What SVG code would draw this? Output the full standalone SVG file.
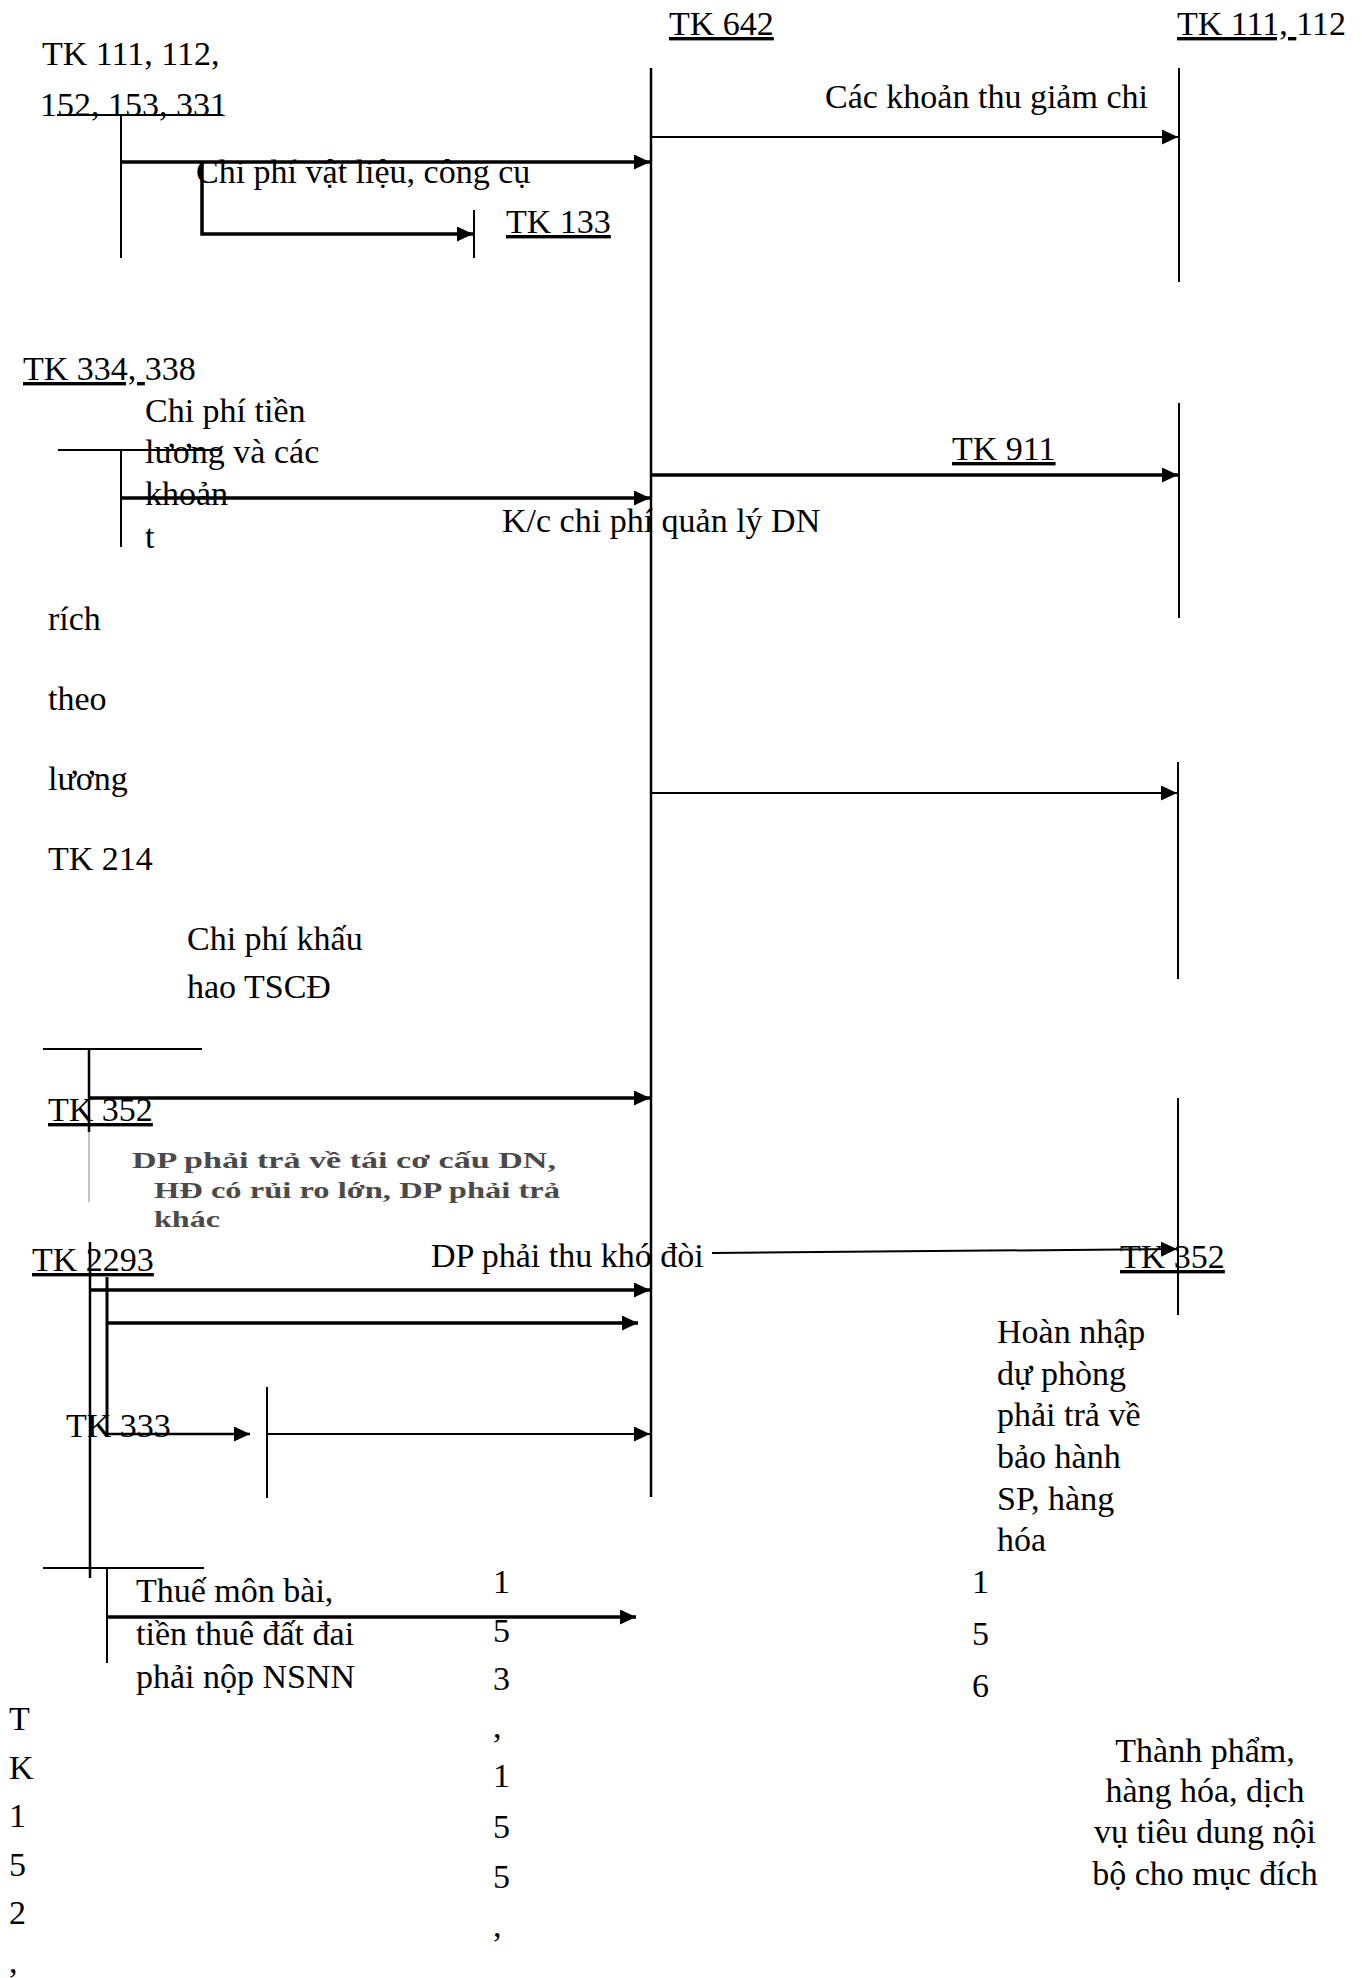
<svg xmlns="http://www.w3.org/2000/svg" width="1362" height="1978" viewBox="0 0 1362 1978">
<defs>
<marker id="ah" markerUnits="userSpaceOnUse" markerWidth="16" markerHeight="15" refX="16" refY="7.5" orient="auto"><path d="M0,0 L16,7.5 L0,15 z" fill="#000"/></marker>
<style>
text{font-family:"Liberation Serif","Times New Roman",serif;font-size:34px;fill:#000}
.u{text-decoration:underline}
.sm{font-size:23px;font-weight:bold;fill:#4a4a4a}
.mid{text-anchor:middle}
.ln{stroke:#000;stroke-width:2;fill:none}
.thk{stroke:#000;stroke-width:3.5;fill:none;marker-end:url(#ah)}
.thn{stroke:#000;stroke-width:2;fill:none;marker-end:url(#ah)}
</style>
</defs>
<rect width="1362" height="1978" fill="#fff"/>

<g id="tk111-112-152-153-331">
<line class="ln" x1="57" y1="115" x2="223" y2="115"/>
<line class="ln" x1="121" y1="115" x2="121" y2="258"/>
<text x="42" y="65">TK 111, 112,</text>
<text x="40" y="116">152, 153, 331</text>
</g>
<g id="tk133">
<line class="ln" x1="474" y1="210" x2="474" y2="258"/>
<text x="506" y="233" class="u">TK 133</text>
</g>
<g id="tk642">
<line class="ln" x1="651" y1="68" x2="651" y2="1497" style="stroke-width:2.5"/>
<text x="669" y="35" class="u">TK 642</text>
</g>
<g id="tk111-112">
<line class="ln" x1="1179" y1="68" x2="1179" y2="282"/>
<text x="1177" y="35"><tspan class="u">TK 111, </tspan>112</text>
</g>
<g id="tk334-338">
<line class="ln" x1="58" y1="450" x2="219" y2="450"/>
<line class="ln" x1="121" y1="450" x2="121" y2="547"/>
<text x="23" y="380"><tspan class="u">TK 334, </tspan>338</text>
</g>
<g id="tk911">
<line class="ln" x1="1179" y1="403" x2="1179" y2="618"/>
<text x="952" y="460" class="u">TK 911</text>
</g>
<g id="tk-right-3">
<line class="ln" x1="1178" y1="762" x2="1178" y2="979"/>
</g>
<g id="tk214">
<text x="48" y="870">TK 214</text>
</g>
<g id="tk352-left">
<line class="ln" x1="43" y1="1049" x2="202" y2="1049"/>
<line class="ln" x1="89" y1="1049" x2="89" y2="1132" style="stroke-width:2.5"/>
<line x1="89" y1="1132" x2="89" y2="1202" stroke="#999" stroke-width="1.2"/>
<text x="48" y="1121" class="u">TK 352</text>
</g>
<g id="tk2293">
<line class="ln" x1="90" y1="1242" x2="90" y2="1578" style="stroke-width:2.5"/>
<line class="ln" x1="107" y1="1277" x2="107" y2="1434" style="stroke-width:3"/>
<text x="32" y="1271" class="u">TK 2293</text>
</g>
<g id="tk333">
<line class="ln" x1="267" y1="1387" x2="267" y2="1498"/>
<text x="66" y="1437">TK 333</text>
</g>
<g id="tk352-right">
<line class="ln" x1="1178" y1="1098" x2="1178" y2="1315"/>
<text x="1120" y="1268" class="u">TK 352</text>
</g>
<g id="tk152-153-155">
<line class="ln" x1="43" y1="1568" x2="204" y2="1568"/>
<line class="ln" x1="107" y1="1568" x2="107" y2="1663"/>
<text x="9" y="1730">T</text>
<text x="9" y="1779">K</text>
<text x="9" y="1827">1</text>
<text x="9" y="1876">5</text>
<text x="9" y="1924">2</text>
<text x="9" y="1973">,</text>
<text x="493" y="1593">1</text>
<text x="493" y="1642">5</text>
<text x="493" y="1690">3</text>
<text x="493" y="1738">,</text>
<text x="493" y="1787">1</text>
<text x="493" y="1838">5</text>
<text x="493" y="1888">5</text>
<text x="493" y="1937">,</text>
</g>
<g id="tk156">
<text x="972" y="1593">1</text>
<text x="972" y="1645">5</text>
<text x="972" y="1697">6</text>
</g>

<g id="connectors">
<line class="thk" x1="121" y1="162" x2="650" y2="162"/>
<path class="thk" d="M202,162 V234 H473"/>
<line class="thn" x1="651" y1="137" x2="1178" y2="137"/>
<line class="thk" x1="121" y1="498" x2="650" y2="498"/>
<line class="thk" x1="651" y1="475" x2="1178" y2="475"/>
<line class="thn" x1="651" y1="793" x2="1177" y2="793"/>
<line class="thk" x1="89" y1="1098" x2="650" y2="1098"/>
<line class="thk" x1="90" y1="1290" x2="650" y2="1290"/>
<line class="thk" x1="107" y1="1323" x2="638" y2="1323"/>
<line class="thn" x1="712" y1="1253" x2="1177" y2="1249"/>
<line class="thn" x1="107" y1="1434" x2="250" y2="1434" style="stroke-width:2.5"/>
<line class="thn" x1="267" y1="1434" x2="650" y2="1434"/>
<line class="thk" x1="107" y1="1617" x2="636" y2="1617"/>
</g>

<g id="labels">
<text x="825" y="108">Các khoản thu giảm chi</text>
<text x="196" y="183">Chi phí vật liệu, công cụ</text>
<text x="145" y="422">Chi phí tiền</text>
<text x="145" y="463">lương và các</text>
<text x="145" y="505">khoản</text>
<text x="145" y="548">t</text>
<text x="502" y="532">K/c chi phí quản lý DN</text>
<text x="48" y="630">rích</text>
<text x="48" y="710">theo</text>
<text x="48" y="790">lương</text>
<text x="187" y="950">Chi phí khấu</text>
<text x="187" y="998">hao TSCĐ</text>
<text x="132" y="1168" class="sm" textLength="424" lengthAdjust="spacingAndGlyphs">DP phải trả về tái cơ cấu DN,</text>
<text x="154" y="1198" class="sm" textLength="406" lengthAdjust="spacingAndGlyphs">HĐ có rủi ro lớn, DP phải trả</text>
<text x="154" y="1227" class="sm" textLength="66" lengthAdjust="spacingAndGlyphs">khác</text>
<text x="431" y="1267">DP phải thu khó đòi</text>
<text x="997" y="1343">Hoàn nhập</text>
<text x="997" y="1385">dự phòng</text>
<text x="997" y="1426">phải trả về</text>
<text x="997" y="1468">bảo hành</text>
<text x="997" y="1510">SP, hàng</text>
<text x="997" y="1551">hóa</text>
<text x="136" y="1602">Thuế môn bài,</text>
<text x="136" y="1645">tiền thuê đất đai</text>
<text x="136" y="1688">phải nộp NSNN</text>
<text x="1205" y="1762" class="mid">Thành phẩm,</text>
<text x="1205" y="1802" class="mid">hàng hóa, dịch</text>
<text x="1205" y="1843" class="mid">vụ tiêu dung nội</text>
<text x="1205" y="1885" class="mid">bộ cho mục đích</text>
</g>
</svg>
